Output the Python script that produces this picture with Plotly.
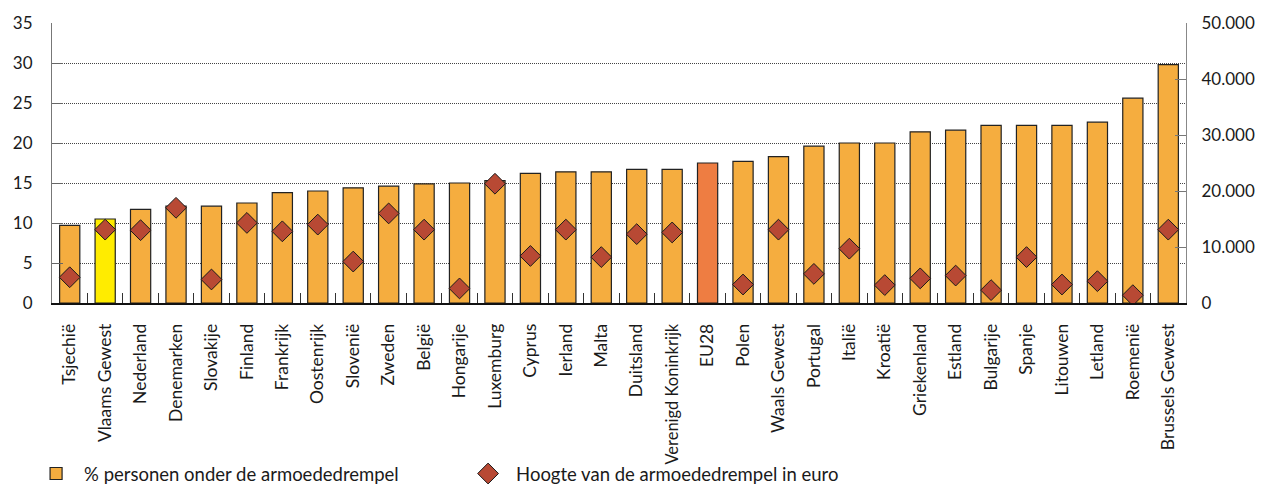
import plotly.graph_objects as go

categories = ["Tsjechië", "Vlaams Gewest", "Nederland", "Denemarken", "Slovakije", "Finland",
              "Frankrijk", "Oostenrijk", "Slovenië", "Zweden", "België", "Hongarije", "Luxemburg",
              "Cyprus", "Ierland", "Malta", "Duitsland", "Verenigd Koninkrijk", "EU28", "Polen",
              "Waals Gewest", "Portugal", "Italië", "Kroatië", "Griekenland", "Estland", "Bulgarije",
              "Spanje", "Litouwen", "Letland", "Roemenië", "Brussels Gewest"]

pct_below = [9.7, 10.5, 11.7, 12.1, 12.1, 12.5, 13.8, 14.0, 14.4, 14.6, 14.9, 15.0, 15.3,
             16.2, 16.4, 16.4, 16.7, 16.7, 17.5, 17.7, 18.3, 19.6, 20.0, 20.0, 21.4, 21.6,
             22.2, 22.2, 22.2, 22.6, 25.6, 29.8]

threshold_eur = [4600, 13100, 13000, 17000, 4200, 14300, 12800, 14000, 7400, 16000, 13100,
                 2600, 21300, 8400, 13100, 8200, 12300, 12600, None, 3300, 13100, 5200, 9700,
                 3200, 4400, 4900, 2300, 8200, 3300, 3900, 1400, 13100]

left_ticks = [0, 5, 10, 15, 20, 25, 30, 35]
right_ticks = [0, 10000, 20000, 30000, 40000, 50000]
right_ticklabels = ["0", "10.000", "20.000", "30.000", "40.000", "50.000"]

FONT = "Lato"
BAR = "#F5AD3F"
highlight = {"Vlaams Gewest": "#FFEC00", "EU28": "#EE7D42"}
bar_colors = [highlight.get(c, BAR) for c in categories]

ticktext = [('<span style="font-size:16.5px">%s</span>' % c) if len(c) > 16 else c for c in categories]

fig = go.Figure()
fig.add_trace(go.Bar(
    x=categories, y=pct_below, name="% personen onder de armoededrempel",
    marker=dict(color=bar_colors, line=dict(color="#222222", width=1.2)),
    width=0.57, yaxis="y",
))
fig.add_trace(go.Scatter(
    x=categories, y=threshold_eur, name="Hoogte van de armoededrempel in euro",
    mode="markers", yaxis="y2",
    marker=dict(symbol="diamond", size=16, color="#B84934", line=dict(color="#1a1a1a", width=1)),
))
fig.update_layout(
    width=1262, height=484,
    margin=dict(l=52, r=76, t=23, b=181, autoexpand=False),
    paper_bgcolor="white", plot_bgcolor="white",
    font=dict(family=FONT, size=17, color="#1a1a1a"),
    bargap=0.43,
    xaxis=dict(
        type="category", tickmode="array", tickvals=categories, ticktext=ticktext,
        tickangle=-90, ticks="inside", tickson="boundaries", ticklen=10, tickcolor="#333",
        showline=True, linecolor="#111", linewidth=1.5, showgrid=False, automargin=False,
        tickfont=dict(family=FONT, size=17.5), range=[-0.5, len(categories) - 0.5],
        ticklabelstandoff=12,
    ),
    yaxis=dict(
        range=[0, 35], tickvals=left_ticks, ticks="inside", ticklen=11, tickcolor="#666",
        showline=True, linecolor="#777", linewidth=1.2, automargin=False,
        showgrid=True, gridcolor="#444", griddash="1px,1px", gridwidth=1,
        zeroline=False, tickfont=dict(family=FONT, size=17), ticklabelstandoff=15,
    ),
    yaxis2=dict(
        range=[0, 50000], overlaying="y", side="right", tickvals=right_ticks,
        ticktext=right_ticklabels, ticks="inside", ticklen=11, tickcolor="#777",
        showline=True, linecolor="#888", linewidth=1.2, showgrid=False, zeroline=False,
        automargin=False, tickfont=dict(family=FONT, size=17), ticklabelstandoff=11,
    ),
    legend=dict(
        orientation="h", x=-0.0211, xanchor="left", y=-0.6107, yanchor="middle",
        entrywidth=371, entrywidthmode="pixels", itemwidth=46,
        font=dict(family=FONT, size=18.5), bgcolor="rgba(0,0,0,0)",
        itemsizing="trace",
    ),
    showlegend=True,
)
fig.write_html("out.html", config={"displayModeBar": False},
               post_script="document.body.style.margin='0';document.body.style.overflow='hidden';")
